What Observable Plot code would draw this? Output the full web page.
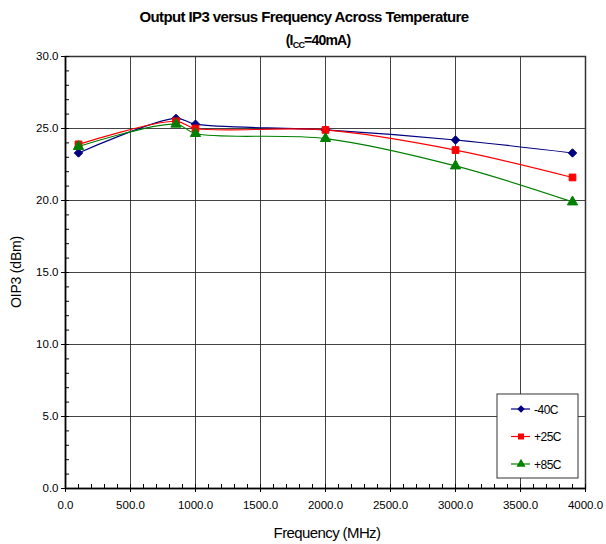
<!DOCTYPE html>
<html>
<head>
<meta charset="utf-8">
<script src="https://cdn.jsdelivr.net/npm/d3@7"></script>
<script src="https://cdn.jsdelivr.net/npm/@observablehq/plot@0.6"></script>
<style>
  html, body { margin: 0; padding: 0; background: #fff; }
  svg { font-family: "Liberation Sans", Arial, sans-serif; }
</style>
</head>
<body>
<div id="chart"></div>
<script>
const frequencies = [100, 850, 1000, 2000, 3000, 3900];
const seriesNames = ["-40C", "+25C", "+85C"];
const valuesM40 = [23.3, 25.7, 25.3, 24.9, 24.2, 23.3];
const valuesP25 = [23.9, 25.5, 25.0, 24.9, 23.5, 21.6];
const valuesP85 = [23.75, 25.3, 24.65, 24.3, 22.4, 19.9];
const seriesColors = ["#000080", "#FF0000", "#008000"];
const seriesSymbols = ["diamond2", "square", "triangle"];
const xTicks = d3.range(0, 4001, 500);
const yTicks = d3.range(0, 30.1, 5);
const xMinor = d3.range(0, 4001, 100);
const yMinor = d3.range(0, 30.1, 1);

const allValues = [valuesM40, valuesP25, valuesP85];
const data = [];
seriesNames.forEach((s, i) => frequencies.forEach((f, j) => data.push({series: s, freq: f, oip3: allValues[i][j]})));

const W = 606, H = 544;
const mL = 65, mR = 21, mT = 56, mB = 56;

const chart = Plot.plot({
  width: W, height: H,
  marginLeft: mL, marginRight: mR, marginTop: mT, marginBottom: mB,
  style: {fontFamily: "Liberation Sans, Arial, sans-serif", fontSize: "11.5px", color: "#000", background: "#fff"},
  x: {domain: [0, 4000]},
  y: {domain: [0, 30]},
  color: {domain: seriesNames, range: seriesColors},
  symbol: {domain: seriesNames, range: seriesSymbols},
  marks: [
    Plot.gridX(xTicks, {stroke: "#222", strokeOpacity: 0.85, strokeWidth: 1}),
    Plot.gridY(yTicks, {stroke: "#222", strokeOpacity: 0.85, strokeWidth: 1}),
    Plot.frame({stroke: "#333", strokeWidth: 1.5}),
    Plot.axisX(xMinor, {tickSize: -4, tickFormat: null, text: null, label: null, stroke: "#000"}),
    Plot.axisY(yMinor, {tickSize: -4, tickFormat: null, text: null, label: null, stroke: "#000"}),
    Plot.axisX(xTicks, {tickSize: 4, tickPadding: 8, tickFormat: d => d.toFixed(1), label: null, stroke: "#000", fill: "#000", fontSize: 11.5, style: "letter-spacing:-0.6px"}),
    Plot.axisY(yTicks, {tickSize: 4, tickPadding: 3, tickFormat: d => d.toFixed(1), label: null, stroke: "#000", fill: "#000", fontSize: 11.5, style: "letter-spacing:-0.6px"}),
    Plot.ruleX([0], {stroke: "#000", strokeWidth: 1.5}),
    Plot.ruleY([0], {stroke: "#000", strokeWidth: 1.5}),
    Plot.line(data, {x: "freq", y: "oip3", z: "series", stroke: "series", strokeWidth: 1.2, curve: "catmull-rom"}),
    Plot.dot(data, {x: "freq", y: "oip3", symbol: "series", fill: "series", stroke: "series", strokeWidth: 1, r: 3.8})
  ]
});
document.getElementById("chart").appendChild(chart);

const svg = d3.select(chart);
svg.append("text")
  .attr("x", 304).attr("y", 22)
  .attr("text-anchor", "middle")
  .attr("font-size", 15).attr("font-weight", "bold")
  .attr("letter-spacing", "-0.6px")
  .attr("fill", "#000")
  .text("Output IP3 versus Frequency Across Temperature");
const sub = svg.append("text")
  .attr("x", 318).attr("y", 45)
  .attr("text-anchor", "middle")
  .attr("font-size", 14).attr("font-weight", "bold")
  .attr("letter-spacing", "-0.8px")
  .attr("fill", "#000");
sub.append("tspan").text("(I");
sub.append("tspan").attr("font-size", 9).attr("dy", 3).text("CC");
sub.append("tspan").attr("dy", -3).text("=40mA)");

svg.append("text")
  .attr("transform", `translate(21,${(mT + H - mB) / 2}) rotate(-90)`)
  .attr("text-anchor", "middle")
  .attr("font-size", 14).attr("fill", "#000")
  .attr("letter-spacing", "-0.2px")
  .text("OIP3 (dBm)");
svg.append("text")
  .attr("x", 327).attr("y", 538)
  .attr("text-anchor", "middle")
  .attr("font-size", 15).attr("fill", "#000")
  .attr("letter-spacing", "-0.6px")
  .text("Frequency (MHz)");

// legend
const lg = svg.append("g").attr("transform", "translate(497,394)");
lg.append("rect").attr("width", 81).attr("height", 84).attr("fill", "#fff").attr("stroke", "#333").attr("stroke-width", 1);
const symMap = {diamond2: d3.symbolDiamond2, square: d3.symbolSquare, triangle: d3.symbolTriangle};
seriesNames.forEach((s, i) => {
  const y = 15 + i * 27.5;
  lg.append("line").attr("x1", 14).attr("x2", 33).attr("y1", y).attr("y2", y).attr("stroke", seriesColors[i]).attr("stroke-width", 1.2);
  lg.append("path").attr("transform", `translate(24,${y})`).attr("d", d3.symbol(symMap[seriesSymbols[i]], 36)()).attr("fill", seriesColors[i]);
  lg.append("text").attr("x", 37).attr("y", y + 4.5).attr("text-anchor", "start").attr("font-size", 12).attr("letter-spacing", "-0.5px").attr("fill", "#000").text(s);
});
</script>
</body>
</html>
